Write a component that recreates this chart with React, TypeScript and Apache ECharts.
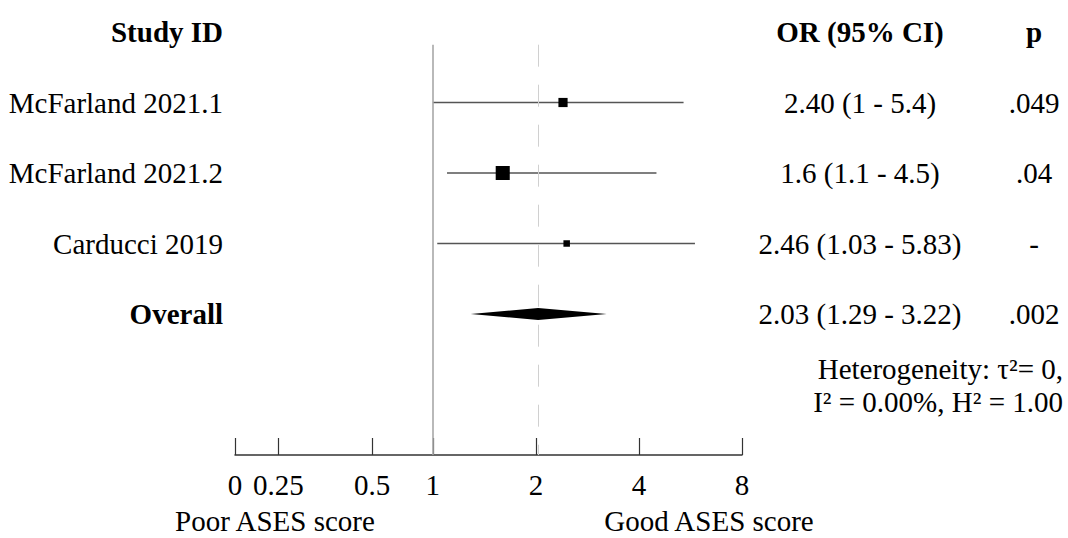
import React, { useEffect, useRef } from "react";
import * as echarts from "echarts";

// ---- data ----
const studyNames = ["McFarland 2021.1", "McFarland 2021.2", "Carducci 2019"];
const studyOR = [2.4, 1.6, 2.46];
const studyLower = [1, 1.1, 1.03];
const studyUpper = [5.4, 4.5, 5.83];
const studyWeight = [26, 61, 13];
const studyORText = ["2.40 (1 - 5.4)", "1.6 (1.1 - 4.5)", "2.46 (1.03 - 5.83)"];
const studyP = [".049", ".04", "-"];

const overallName = "Overall";
const overallOR = 2.03;
const overallLower = 1.29;
const overallUpper = 3.22;
const overallORText = "2.03 (1.29 - 3.22)";
const overallP = ".002";

const heterogeneityLines = ["Heterogeneity: τ²= 0,", "I² = 0.00%, H² = 1.00"];

const headerStudy = "Study ID";
const headerOR = "OR (95% CI)";
const headerP = "p";

const tickValues = [0, 0.25, 0.5, 1, 2, 4, 8];
const tickLabels = ["0", "0.25", "0.5", "1", "2", "4", "8"];
const nullValue = 1;
const leftCaption = "Poor ASES score";
const rightCaption = "Good ASES score";

// ---- axis scale (log2 above 1, the figure's own spacing below 1) ----
const subUnitScale: [number, number][] = [
  [0, -1.92],
  [0.25, -1.5],
  [0.5, -0.59],
  [1, 0],
];
function toAxis(v: number): number {
  if (v >= 1) return Math.log2(v);
  for (let i = 0; i < subUnitScale.length - 1; i++) {
    const [a, pa] = subUnitScale[i];
    const [b, pb] = subUnitScale[i + 1];
    if (v >= a && v <= b) return pa + ((v - a) / (b - a)) * (pb - pa);
  }
  return subUnitScale[0][1];
}
const tickAxis = tickValues.map(toAxis);
const xMin = toAxis(tickValues[0]);
const xMax = toAxis(tickValues[tickValues.length - 1]);

const FONT = "'Liberation Serif', 'Times New Roman', serif";
const FS = 29;

export default function App() {
  const ref = useRef<HTMLDivElement>(null);
  useEffect(() => {
    if (!ref.current) return;
    const chart = echarts.init(ref.current, undefined, { renderer: "svg" });

    const rowCount = 6; // header, 3 studies, overall, heterogeneity
    const studyData = studyNames.map((_, i) => [
      toAxis(studyOR[i]),
      i + 1,
      toAxis(studyLower[i]),
      toAxis(studyUpper[i]),
      18 * Math.sqrt(studyWeight[i] / 100),
    ]);
    const overallRow = studyNames.length + 1;

    const leftLabel = (v: number) => {
      if (v === 0) return `{b|${headerStudy}}`;
      if (v >= 1 && v <= studyNames.length) return studyNames[v - 1];
      if (v === overallRow) return `{b|${overallName}}`;
      return "";
    };
    const orLabel = (v: number) => {
      if (v === 0) return `{b|${headerOR}}`;
      if (v >= 1 && v <= studyNames.length) return studyORText[v - 1];
      if (v === overallRow) return overallORText;
      return "";
    };
    const pLabel = (v: number) => {
      if (v === 0) return `{b|${headerP}}`;
      if (v >= 1 && v <= studyNames.length) return studyP[v - 1];
      if (v === overallRow) return overallP;
      return "";
    };
    const rich = { b: { fontWeight: "bold", fontSize: FS, fontFamily: FONT, color: "#000" } };
    const yBase = {
      type: "value",
      min: 0,
      max: rowCount,
      interval: 1,
      inverse: true,
      axisLine: { show: false },
      axisTick: { show: false },
      splitLine: { show: false },
    };

    chart.setOption({
      animation: false,
      backgroundColor: "#fff",
      grid: {
        left: 235,
        right: 326,
        top: 32,
        bottom: 83,
        containLabel: false,
        outerBoundsMode: "none",
      },
      xAxis: {
        type: "value",
        position: "bottom",
        min: xMin,
        max: xMax,
        axisLine: { show: true, onZero: false, lineStyle: { color: "#333", width: 1.5 } },
        axisTick: {
          show: true,
          inside: true,
          length: 17,
          customValues: tickAxis,
          lineStyle: { color: "#333", width: 1.2 },
        },
        axisLabel: {
          customValues: tickAxis,
          margin: 15,
          fontSize: FS,
          fontFamily: FONT,
          color: "#000",
          formatter: (v: number) => {
            const i = tickAxis.findIndex((t) => Math.abs(t - v) < 1e-6);
            return i >= 0 ? tickLabels[i] : "";
          },
        },
        splitLine: { show: false },
      },
      yAxis: [
        {
          ...yBase,
          position: "left",
          axisLabel: {
            margin: 12,
            fontSize: FS,
            fontFamily: FONT,
            color: "#000",
            formatter: leftLabel,
            rich,
          },
        },
        {
          ...yBase,
          position: "right",
          axisLabel: {
            margin: 118,
            align: "center",
            fontSize: FS,
            fontFamily: FONT,
            color: "#000",
            formatter: orLabel,
            rich,
          },
        },
        {
          ...yBase,
          position: "right",
          axisLabel: {
            margin: 292,
            align: "center",
            fontSize: FS,
            fontFamily: FONT,
            color: "#000",
            formatter: pLabel,
            rich,
          },
        },
      ],
      graphic: [
        {
          type: "text",
          x: 1063,
          y: 385,
          style: {
            text: heterogeneityLines.join("\n"),
            align: "right",
            verticalAlign: "middle",
            fontSize: FS,
            lineHeight: 33,
            fontFamily: FONT,
            fill: "#000",
          },
        },
        {
          type: "text",
          x: 275,
          y: 521,
          style: {
            text: leftCaption,
            align: "center",
            verticalAlign: "middle",
            fontSize: FS,
            lineHeight: 30,
            fontFamily: FONT,
            fill: "#000",
          },
        },
        {
          type: "text",
          x: 709,
          y: 521,
          style: {
            text: rightCaption,
            align: "center",
            verticalAlign: "middle",
            fontSize: FS,
            lineHeight: 30,
            fontFamily: FONT,
            fill: "#000",
          },
        },
      ],
      series: [
        {
          type: "custom",
          name: "studies",
          coordinateSystem: "cartesian2d",
          xAxisIndex: 0,
          yAxisIndex: 0,
          data: studyData,
          clip: false,
          renderItem: (params: any, api: any) => {
            const row = api.value(1);
            const c = api.coord([api.value(0), row]);
            const lo = api.coord([api.value(2), row]);
            const hi = api.coord([api.value(3), row]);
            const s = api.value(4);
            return {
              type: "group",
              children: [
                {
                  type: "line",
                  shape: { x1: lo[0], y1: c[1], x2: hi[0], y2: c[1] },
                  style: { stroke: "#555", lineWidth: 1.3 },
                },
                {
                  type: "rect",
                  shape: { x: c[0] - s / 2, y: c[1] - s / 2, width: s, height: s },
                  style: { fill: "#000" },
                },
              ],
            };
          },
          markLine: {
            silent: true,
            symbol: "none",
            label: { show: false },
            data: [
              [
                { coord: [toAxis(nullValue), 0.18], lineStyle: { color: "#a8a8a8", width: 1.6, type: "solid" } },
                { coord: [toAxis(nullValue), rowCount] },
              ],
              [
                {
                  coord: [toAxis(overallOR), 0.18],
                  lineStyle: { color: "#d0d0d0", width: 1, type: [22, 18] },
                },
                { coord: [toAxis(overallOR), rowCount] },
              ],
            ],
          },
          z: 3,
        },
        {
          type: "custom",
          name: "overall",
          coordinateSystem: "cartesian2d",
          xAxisIndex: 0,
          yAxisIndex: 0,
          data: [[toAxis(overallOR), overallRow, toAxis(overallLower), toAxis(overallUpper)]],
          renderItem: (params: any, api: any) => {
            const row = api.value(1);
            const c = api.coord([api.value(0), row]);
            const lo = api.coord([api.value(2), row]);
            const hi = api.coord([api.value(3), row]);
            const h = 6;
            return {
              type: "polygon",
              shape: {
                points: [
                  [lo[0], c[1]],
                  [c[0], c[1] - h],
                  [hi[0], c[1]],
                  [c[0], c[1] + h],
                ],
              },
              style: { fill: "#000" },
            };
          },
          z: 4,
        },
      ],
    });
    return () => chart.dispose();
  }, []);
  return (
    <div
      ref={ref}
      style={{ position: "fixed", left: 0, top: 0, width: 1068, height: 538, background: "#fff" }}
    />
  );
}
